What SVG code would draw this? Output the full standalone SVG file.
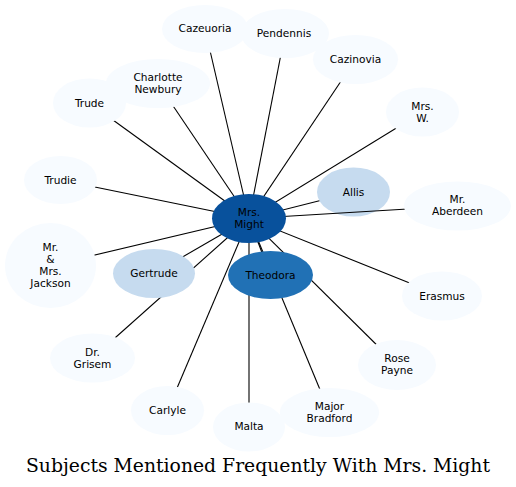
<svg xmlns="http://www.w3.org/2000/svg" width="516" height="487" viewBox="0 0 516 487">
<style>
.pale{fill:#f7fbff;stroke:none}
.light{fill:#c6dbef;stroke:none}
.mid{fill:#2171b5;stroke:none}
.dark{fill:#08519c;stroke:none}
.lbl{font-family:"DejaVu Sans",sans-serif;font-size:10.6px;fill:#000;text-anchor:middle}
.edges line{stroke:#000;stroke-width:1.1}
.title{font-family:"DejaVu Serif",serif;font-size:18.8px;fill:#000;text-anchor:middle}
</style>
<rect width="516" height="487" fill="#fff"/>
<g id="node-allis"><ellipse class="light" cx="353.5" cy="192" rx="36.5" ry="24.5"/><text class="lbl" x="353.5" y="195.8">Allis</text></g>
<g id="edges" class="edges">
<line x1="249" y1="218.5" x2="270.5" y2="275"/>
<line x1="249" y1="218.5" x2="154" y2="273.5"/>
<line x1="249" y1="218.5" x2="319.4" y2="200.7"/>
<line x1="249" y1="218.5" x2="457.5" y2="206"/>
<line x1="249" y1="218.5" x2="442" y2="296"/>
<line x1="249" y1="218.5" x2="60.5" y2="180"/>
<line x1="249" y1="218.5" x2="50.5" y2="265.5"/>
<line x1="249" y1="218.5" x2="89.5" y2="103"/>
<line x1="249" y1="218.5" x2="158" y2="83.5"/>
<line x1="249" y1="218.5" x2="205" y2="29"/>
<line x1="249" y1="218.5" x2="285" y2="33.5"/>
<line x1="249" y1="218.5" x2="355.5" y2="59.5"/>
<line x1="249" y1="218.5" x2="422.5" y2="112"/>
<line x1="249" y1="218.5" x2="92.5" y2="358"/>
<line x1="249" y1="218.5" x2="167.5" y2="410.5"/>
<line x1="249" y1="218.5" x2="249" y2="427"/>
<line x1="249" y1="218.5" x2="329.5" y2="412.5"/>
<line x1="249" y1="218.5" x2="397" y2="365"/>
</g>
<g id="node-trude"><ellipse class="pale" cx="89.5" cy="103" rx="36.5" ry="24.5"/><text class="lbl" x="89.5" y="106.8">Trude</text></g>
<g id="node-charlotte"><ellipse class="pale" cx="158" cy="83.5" rx="52" ry="24.5"/><text class="lbl" x="158" y="81.3">Charlotte</text><text class="lbl" x="158" y="93.3">Newbury</text></g>
<g id="node-cazeuoria"><ellipse class="pale" cx="205" cy="29" rx="43" ry="24"/><text class="lbl" x="205" y="32.3">Cazeuoria</text></g>
<g id="node-pendennis"><ellipse class="pale" cx="285" cy="33.5" rx="44" ry="24.5"/><text class="lbl" x="284" y="37">Pendennis</text></g>
<g id="node-cazinovia"><ellipse class="pale" cx="355.5" cy="59.5" rx="42.5" ry="24.5"/><text class="lbl" x="355.5" y="63.2">Cazinovia</text></g>
<g id="node-mrsw"><ellipse class="pale" cx="422.5" cy="112" rx="36.5" ry="24.5"/><text class="lbl" x="422.5" y="109.8">Mrs.</text><text class="lbl" x="422.5" y="121.8">W.</text></g>
<g id="node-aberdeen"><ellipse class="pale" cx="457.5" cy="206" rx="53.5" ry="24.5"/><text class="lbl" x="457.5" y="203.3">Mr.</text><text class="lbl" x="457.5" y="215.3">Aberdeen</text></g>
<g id="node-erasmus"><ellipse class="pale" cx="442" cy="296" rx="40" ry="24.5"/><text class="lbl" x="442" y="299.8">Erasmus</text></g>
<g id="node-trudie"><ellipse class="pale" cx="60.5" cy="180" rx="36.5" ry="24"/><text class="lbl" x="60.5" y="183.8">Trudie</text></g>
<g id="node-jackson"><ellipse class="pale" cx="50.5" cy="265.5" rx="45.5" ry="42.5"/><text class="lbl" x="50.5" y="250.5">Mr.</text><text class="lbl" x="50.5" y="262.5">&amp;</text><text class="lbl" x="50.5" y="274.5">Mrs.</text><text class="lbl" x="50.5" y="286.5">Jackson</text></g>
<g id="node-grisem"><ellipse class="pale" cx="92.5" cy="358" rx="42.5" ry="24.5"/><text class="lbl" x="92.5" y="355.8">Dr.</text><text class="lbl" x="92.5" y="367.8">Grisem</text></g>
<g id="node-carlyle"><ellipse class="pale" cx="167.5" cy="410.5" rx="36.5" ry="24.5"/><text class="lbl" x="167.5" y="414.3">Carlyle</text></g>
<g id="node-malta"><ellipse class="pale" cx="249" cy="427" rx="36" ry="24.5"/><text class="lbl" x="249" y="429.5">Malta</text></g>
<g id="node-bradford"><ellipse class="pale" cx="329.5" cy="412.5" rx="49.5" ry="24.5"/><text class="lbl" x="329.5" y="409.5">Major</text><text class="lbl" x="329.5" y="421.5">Bradford</text></g>
<g id="node-rosepayne"><ellipse class="pale" cx="397" cy="365" rx="39" ry="25"/><text class="lbl" x="397" y="361.8">Rose</text><text class="lbl" x="397" y="373.8">Payne</text></g>
<g id="node-gertrude"><ellipse class="light" cx="154" cy="273.5" rx="41" ry="24.5"/><text class="lbl" x="154" y="277.3">Gertrude</text></g>
<g id="node-theodora"><ellipse class="mid" cx="270.5" cy="275" rx="42.5" ry="24"/><text class="lbl" x="270.5" y="278.8">Theodora</text></g>
<g id="node-might"><ellipse class="dark" cx="249" cy="218.5" rx="37" ry="24.5"/><text class="lbl" x="249" y="216">Mrs.</text><text class="lbl" x="249" y="228">Might</text></g>
<text class="title" x="258" y="471.5">Subjects Mentioned Frequently With Mrs. Might</text>
</svg>
